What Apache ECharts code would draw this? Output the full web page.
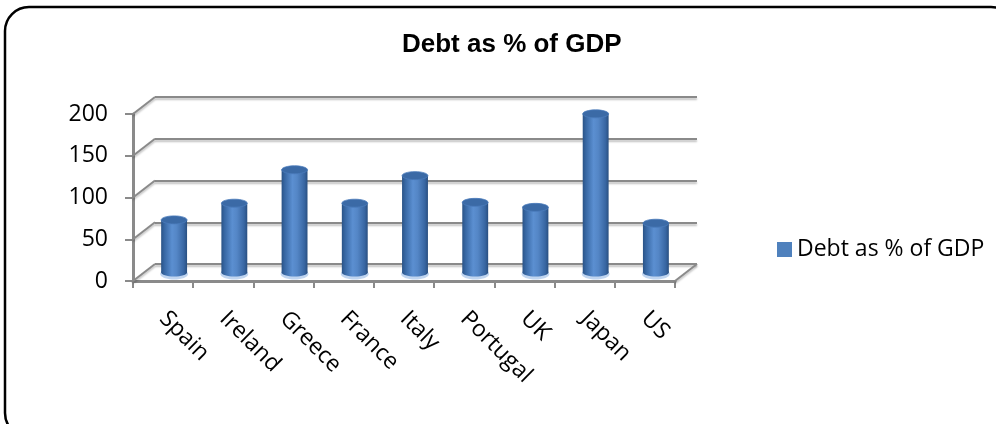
<!DOCTYPE html>
<html>
<head>
<meta charset="utf-8">
<script src="https://cdn.jsdelivr.net/npm/echarts@6/dist/echarts.min.js"></script>
<style>
html,body{margin:0;padding:0;background:#fff;}
#chart{width:996px;height:424px;}
</style>
</head>
<body>
<div id="chart"></div>
<script>
const categories = ['Spain','Ireland','Greece','France','Italy','Portugal','UK','Japan','US'];
const debtValues = [63, 83, 123, 83, 116, 84, 78, 190, 59];
const yTicks = [0, 50, 100, 150, 200];
const seriesName = 'Debt as % of GDP';
const titleText = 'Debt as % of GDP';

const DX = 22, DY = -17;        // depth offset of the 3D box
const gridColor = '#8a8a8a';
const labelFont = 'Open Sans';

const chart = echarts.init(document.getElementById('chart'));

function decoRender(params, api) {
  const cs = params.coordSys;
  const v = api.value(0);
  const y = api.coord([0, v])[1];
  const x0 = cs.x;
  const children = [{
    type: 'line',
    shape: {x1: x0, y1: y, x2: x0 + DX, y2: y + DY},
    style: {stroke: gridColor, lineWidth: 2, shadowColor: 'rgba(0,0,0,0.25)', shadowBlur: 2, shadowOffsetY: 2}
  }];
  if (v === 0) {
    const x1 = cs.x + cs.width;
    children.push({
      type: 'line',
      shape: {x1: x1, y1: y, x2: x1 + DX, y2: y + DY},
      style: {stroke: gridColor, lineWidth: 2, shadowColor: 'rgba(0,0,0,0.25)', shadowBlur: 2, shadowOffsetY: 2}
    });
  }
  return {type: 'group', children: children};
}

function cylRender(params, api) {
  const i = api.value(0);
  const v = api.value(1);
  const top = api.coord([i, v]);
  const base = api.coord([i, 0]);
  const cw = api.size([1, 0])[0];
  const w = cw * 0.43;
  const cx = top[0] + DX / 2;
  const yT = top[1] + DY / 2;
  const yB = base[1] + DY / 2;
  const rx = w / 2, ry = 4;
  const bodyGrad = new echarts.graphic.LinearGradient(0, 0, 1, 0, [
    {offset: 0, color: '#2a5386'},
    {offset: 0.12, color: '#3767a3'},
    {offset: 0.42, color: '#5b8fd1'},
    {offset: 0.6, color: '#5486c6'},
    {offset: 0.88, color: '#3866a2'},
    {offset: 1, color: '#294f80'}
  ]);
  return {
    type: 'group',
    children: [
      {type: 'ellipse', shape: {cx: cx, cy: yB + 1.5, rx: rx + 1, ry: ry + 1.5},
        style: {fill: 'rgba(150,185,230,0.6)'}},
      {type: 'ellipse', shape: {cx: cx, cy: yB, rx: rx, ry: ry}, style: {fill: bodyGrad}},
      {type: 'rect', shape: {x: cx - rx, y: yT, width: w, height: yB - yT}, style: {fill: bodyGrad}},
      {type: 'ellipse', shape: {cx: cx, cy: yT, rx: rx, ry: ry},
        style: {fill: '#3b6aa6', stroke: '#4a7bbb', lineWidth: 0.8}}
    ]
  };
}

const option = {
  backgroundColor: '#fff',
  animation: false,
  title: {
    text: titleText,
    left: 397, top: 27,
    textStyle: {fontFamily: 'Liberation Sans', fontWeight: 'bold', fontSize: 26, color: '#000'}
  },
  legend: {
    data: [seriesName],
    left: 772, top: 233,
    icon: 'rect', itemWidth: 15, itemHeight: 15, itemGap: 10,
    textStyle: {fontFamily: labelFont, fontSize: 23, color: '#000'}
  },
  grid: [
    {left: 133, right: 321, top: 114, bottom: 143, containLabel: false},
    {left: 155, right: 299, top: 97, bottom: 160, containLabel: false}
  ],
  xAxis: [
    {
      type: 'category', gridIndex: 0, data: categories, boundaryGap: true,
      axisLine: {show: true, lineStyle: {color: gridColor, width: 3}},
      axisTick: {show: true, alignWithLabel: false, length: 7, lineStyle: {color: gridColor, width: 2}},
      axisLabel: {rotate: -45, margin: 34, interval: 0, fontFamily: labelFont, fontSize: 23, color: '#000'}
    },
    {
      type: 'category', gridIndex: 1, data: categories,
      axisLine: {show: false}, axisTick: {show: false}, axisLabel: {show: false}
    }
  ],
  yAxis: [
    {
      type: 'value', gridIndex: 0, min: 0, max: 200, interval: 50,
      axisLine: {show: true, lineStyle: {color: gridColor, width: 3}},
      axisTick: {show: true, length: 8, lineStyle: {color: gridColor, width: 2}},
      axisLabel: {margin: 25, fontFamily: labelFont, fontSize: 23, color: '#000'},
      splitLine: {show: false}
    },
    {
      type: 'value', gridIndex: 1, min: 0, max: 200, interval: 50,
      axisLine: {show: false}, axisTick: {show: false}, axisLabel: {show: false},
      splitLine: {show: true, lineStyle: {color: gridColor, width: 2, shadowColor: 'rgba(0,0,0,0.25)', shadowBlur: 2, shadowOffsetY: 2}}
    }
  ],
  series: [
    {
      name: 'deco', type: 'custom', xAxisIndex: 0, yAxisIndex: 0, silent: true,
      renderItem: decoRender,
      data: yTicks.map(t => [t]),
      encode: {y: 0}, z: 1
    },
    {
      name: seriesName, type: 'custom', xAxisIndex: 0, yAxisIndex: 0,
      itemStyle: {color: '#4f81bd'},
      renderItem: cylRender,
      data: debtValues.map((v, i) => [i, v]),
      encode: {x: 0, y: 1}, z: 3
    }
  ],
  graphic: [
    {type: 'rect', shape: {x: 5, y: 7, width: 1010, height: 430, r: 24},
      style: {fill: 'none', stroke: '#000', lineWidth: 2.5}, silent: true, z: 100}
  ]
};
chart.setOption(option);
</script>
</body>
</html>
